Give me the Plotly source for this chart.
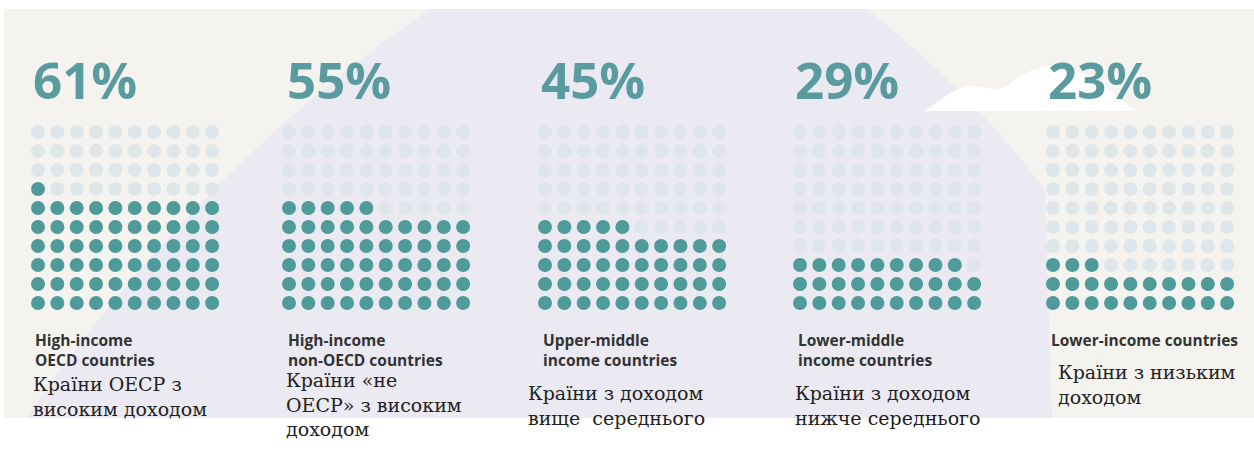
import plotly.graph_objects as go

# ---- data ----
percentages = [61, 55, 45, 29, 23]
pct_labels = ["61%", "55%", "45%", "29%", "23%"]
english_labels = [
    "High-income<br>OECD countries",
    "High-income<br>non-OECD countries",
    "Upper-middle<br>income countries",
    "Lower-middle<br>income countries",
    "Lower-income countries",
]
ukrainian_labels = [
    "Країни ОЕСР з<br>високим доходом",
    "Країни «не<br>ОЕСР» з високим<br>доходом",
    "Країни з доходом<br>вище  середнього",
    "Країни з доходом<br>нижче середнього",
    "Країни з низьким<br>доходом",
]

# ---- layout constants ----
W, H = 1254, 450
grid_x0 = [38, 289, 545, 800, 1053]
dx, dy = 19.35, 19.0
grid_bottom = 303
pct_x = [31, 285, 539, 793, 1046]
eng_x = [33, 286, 541, 796, 1049]
ukr_x = [31, 284, 526, 793, 1056]
ukr_y = [371, 367, 380, 380, 359]

FILLED = "#4f9b9a"
EMPTY = "#dee6e9"
TEXT_TEAL = "#5a9b9f"
BEIGE = "#f4f3ef"
LAVENDER = "#ebe9f2"

fig = go.Figure()

for g, pct in enumerate(percentages):
    fx, fy, ex, ey = [], [], [], []
    for k in range(100):
        row, col = divmod(k, 10)
        x = grid_x0[g] + col * dx
        y = grid_bottom - row * dy
        if k < pct:
            fx.append(x); fy.append(y)
        else:
            ex.append(x); ey.append(y)
    fig.add_trace(go.Scatter(x=ex, y=ey, mode="markers", hoverinfo="skip",
                             marker=dict(size=14, color=EMPTY, line=dict(width=0)),
                             showlegend=False))
    fig.add_trace(go.Scatter(x=fx, y=fy, mode="markers", hoverinfo="skip",
                             marker=dict(size=14, color=FILLED, line=dict(width=0)),
                             showlegend=False))

annotations = []
for g in range(5):
    annotations.append(dict(x=pct_x[g], y=79, text="<b>%s</b>" % pct_labels[g],
                            xref="x", yref="y", xanchor="left", yanchor="middle",
                            showarrow=False,
                            font=dict(family="Open Sans", size=51, color=TEXT_TEAL)))
    annotations.append(dict(x=eng_x[g], y=327, text="<b>%s</b>" % english_labels[g],
                            xref="x", yref="y", xanchor="left", yanchor="top",
                            align="left", showarrow=False,
                            font=dict(family="Open Sans", size=15.5, color="#333333")))
    annotations.append(dict(x=ukr_x[g], y=ukr_y[g], text=ukrainian_labels[g],
                            xref="x", yref="y", xanchor="left", yanchor="top",
                            align="left", showarrow=False,
                            font=dict(family="DejaVu Serif", size=19, color="#222222")))

shapes = [
    dict(type="rect", x0=4, x1=W, y0=9, y1=418, fillcolor=BEIGE, line=dict(width=0), layer="below"),
    dict(type="path",
         path="M 430,9 L 867,9 Q 975,95 1045,190 L 1052,418 L 26,418 C 100,310 225,150 430,9 Z",
         fillcolor=LAVENDER, line=dict(width=0), layer="below"),
    dict(type="path",
         path="M 925,111 C 945,95 960,85 975,86 C 990,88 1000,92 1010,84 C 1025,72 1040,64 1060,66 C 1090,70 1115,95 1135,111 Z",
         fillcolor="#ffffff", line=dict(width=0), layer="below"),
]

fig.update_layout(
    width=W, height=H,
    margin=dict(l=0, r=0, t=0, b=0),
    paper_bgcolor="#ffffff", plot_bgcolor="rgba(0,0,0,0)",
    xaxis=dict(range=[0, W], visible=False, fixedrange=True),
    yaxis=dict(range=[H, 0], visible=False, fixedrange=True),
    annotations=annotations, shapes=shapes,
)

fig.write_html("out.html", config={"displayModeBar": False},
               post_script="document.body.style.margin='0px';")
